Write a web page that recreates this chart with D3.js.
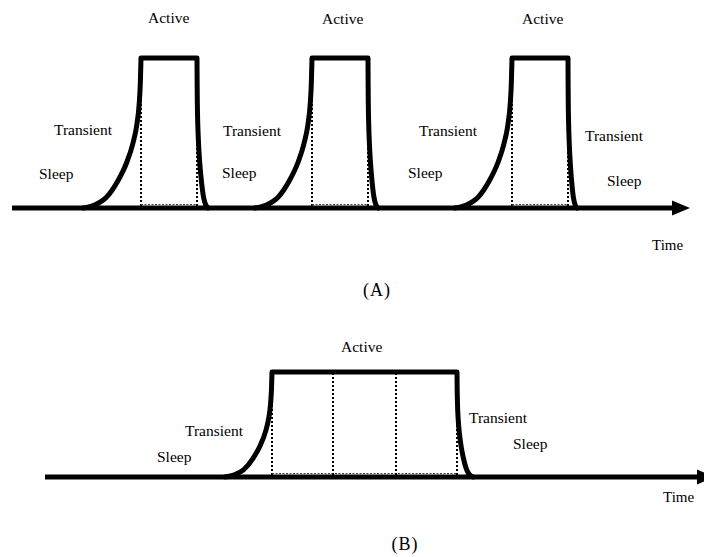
<!DOCTYPE html>
<html><head><meta charset="utf-8">
<script src="https://cdn.jsdelivr.net/npm/d3@7"></script>
<style>
body{margin:0;background:#fff}
svg{display:block}
</style>
</head><body><svg id="c" width="704" height="557"></svg>
<script>
// ---------- data ----------
const stateNames = ["Sleep", "Transient", "Active"];
const timeLabel = "Time";
const panelTitles = ["(A)", "(B)"];
// Panel A: periodic duty cycles [riseStart, activeStart, activeEnd, fallEnd] (time units)
const pulsesA = [[73, 131, 187, 198], [245, 302, 358, 368], [445, 502, 558, 567]];
const axisA = [2, 680];
// Panel B: one long active period, with internal period divisions
const pulsesB = [[190, 237, 422, 438]];
const divisionsB = [298, 361];
const axisB = [10, 680];
// transient shape: [fraction of transition time, fraction of active level]
const riseShape = [[0, 0], [0.2, 0.02], [0.4, 0.07], [0.6, 0.18], [0.75, 0.3], [0.86, 0.43], [0.93, 0.56], [0.97, 0.7], [0.99, 0.85], [1, 1]];
// state labels per panel: [stateIndex, labelSlot]
const labelsA = [[2,0],[2,1],[2,2],[1,0],[0,0],[1,1],[0,1],[1,2],[0,2],[1,3],[0,3]];
const labelsB = [[2,0],[1,0],[0,0],[1,1],[0,1]];

// ---------- layout ----------
const FONT = "'Liberation Serif','Times New Roman',Times,serif";
const svg = d3.select("#c");
const panels = [
  {pulses: pulsesA, axis: axisA, divisions: [],
   x: d3.scaleLinear().domain([0, 680]).range([10, 690]),
   y: d3.scaleLinear().domain([0, 1]).range([208, 58]),
   head: 18, halfHead: 7.5,
   labels: labelsA,
   labelPos: [[148,23],[322,24],[522,24],[54,135],[39,179],[223,136],[222,178],[419,136],[408,178],[585,141],[607,186]],
   timePos: [652, 250], titlePos: [377, 296]},
  {pulses: pulsesB, axis: axisB, divisions: divisionsB,
   x: d3.scaleLinear().domain([0, 680]).range([35, 715]),
   y: d3.scaleLinear().domain([0, 1]).range([477, 372]),
   head: 18, halfHead: 7.5,
   labels: labelsB,
   labelPos: [[341,352],[185,436],[157,462],[469,423],[513,449]],
   timePos: [663, 502], titlePos: [405, 550]}
];

const lineGen = d3.line().curve(d3.curveMonotoneX);

panels.forEach((p, pi) => {
  const g = svg.append("g");
  const x = p.x, y = p.y;
  const y0 = y(0), y1 = y(1);

  // dotted guides
  p.pulses.forEach(([rs, as, ae, fe]) => {
    [as, ae].forEach(t => {
      g.append("line").attr("x1", x(t)).attr("x2", x(t))
        .attr("y1", y0 - 2).attr("y2", y1)
        .attr("stroke", "#000").attr("stroke-width", 2).attr("stroke-dasharray", "2,2");
    });
    g.append("line").attr("x1", x(as)).attr("x2", x(ae))
      .attr("y1", y0 - 3.5).attr("y2", y0 - 3.5)
      .attr("stroke", "#444").attr("stroke-width", 1.2).attr("stroke-dasharray", "2,1.5");
  });
  p.divisions.forEach(t => {
    g.append("line").attr("x1", x(t)).attr("x2", x(t))
      .attr("y1", y0 - 2).attr("y2", y1)
      .attr("stroke", "#000").attr("stroke-width", 2).attr("stroke-dasharray", "2,2");
  });

  // baseline (time axis) with arrow
  const xs = x(p.axis[0]), xe = x(p.axis[1]);
  g.append("line").attr("x1", xs).attr("x2", xe - p.head + 2)
    .attr("y1", y0).attr("y2", y0)
    .attr("stroke", "#000").attr("stroke-width", 5);
  g.append("path")
    .attr("d", `M${xe},${y0}L${xe - p.head},${y0 - p.halfHead}L${xe - p.head},${y0 + p.halfHead}Z`)
    .attr("fill", "#000");

  // pulses
  p.pulses.forEach(([rs, as, ae, fe]) => {
    const rise = riseShape.map(([s, l]) => [x(rs + (as - rs) * s), y(l)]);
    const fall = riseShape.slice().reverse().map(([s, l]) => [x(ae + (fe - ae) * (1 - s)), y(l)]);
    const d = lineGen(rise) + "L" + x(ae) + "," + y1 + lineGen(fall).replace(/^M/, "L");
    g.append("path").attr("d", d).attr("fill", "none")
      .attr("stroke", "#000").attr("stroke-width", 5)
      .attr("stroke-linejoin", "round").attr("stroke-linecap", "round");
  });

  // labels
  p.labels.forEach(([si], i) => {
    g.append("text").attr("x", p.labelPos[i][0]).attr("y", p.labelPos[i][1])
      .attr("font-family", FONT).attr("font-size", 15.5).attr("fill", "#000")
      .text(stateNames[si]);
  });
  g.append("text").attr("x", p.timePos[0]).attr("y", p.timePos[1])
    .attr("font-family", FONT).attr("font-size", 15).attr("fill", "#000").text(timeLabel);
  g.append("text").attr("x", p.titlePos[0]).attr("y", p.titlePos[1])
    .attr("font-family", FONT).attr("font-size", 18).attr("fill", "#000")
    .attr("text-anchor", "middle").attr("letter-spacing", 1).text(panelTitles[pi]);
});
</script>
</body></html>
